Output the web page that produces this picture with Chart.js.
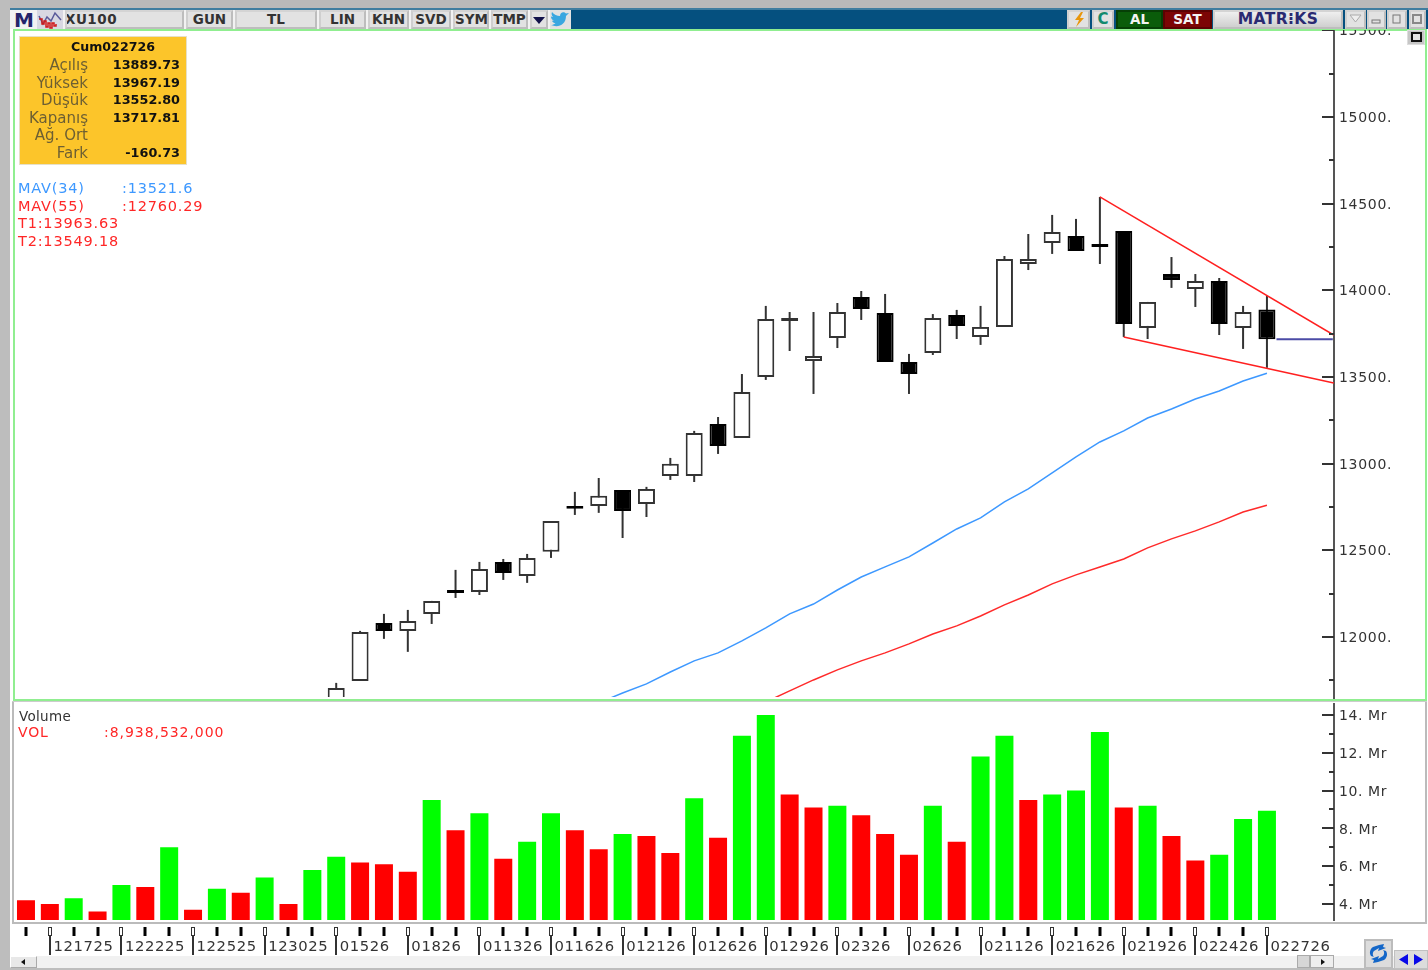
<!DOCTYPE html>
<html lang="tr"><head><meta charset="utf-8"><title>XU100</title>
<script src="https://cdn.jsdelivr.net/npm/chart.js@4"></script>
<style>
html,body{margin:0;padding:0;background:#fff;width:1428px;height:970px;overflow:hidden;font-family:"DejaVu Sans",sans-serif}
.a{position:absolute;box-sizing:border-box}
.btn{position:absolute;top:10px;height:19px;background:#e2e2e2;border:2px solid #bdbdbd;border-top-color:#d4d4d4;border-left-color:#cfcfcf;text-align:center;font:bold 13.5px/15px "DejaVu Sans",sans-serif;color:#333;box-sizing:border-box;white-space:nowrap;overflow:hidden}
.t{position:absolute;white-space:nowrap;line-height:18px}
.lab{color:#6d5f33;font-size:15px;text-align:right;width:80px;left:8px}
.val{color:#111;font:bold 12.8px/18px "DejaVu Sans",sans-serif;text-align:right;width:80px;left:100px}
.ind{font-size:14.5px;letter-spacing:.8px}
canvas{position:absolute;display:block}
</style></head><body>
<div class="a" style="left:0;top:0;width:1428px;height:8px;background:#b9b9b9"></div>
<div class="a" style="left:10px;top:8px;width:1418px;height:2px;background:#3f7d9f"></div>
<div class="a" style="left:0;top:0;width:10px;height:970px;background:#bdbdbd"></div>
<div class="a" style="left:571px;top:10px;width:857px;height:19px;background:#05507f"></div>
<div class="a" style="left:10px;top:10px;width:561px;height:19px;background:#f2f2f2"></div>
<div class="t" style="left:14px;top:10px;width:19px;text-align:center;font:bold 20px/20px 'DejaVu Sans';color:#24246b">M</div>
<div class="btn" style="left:37px;width:26px;background:#d8d8e2;border:none"><svg width="26" height="19"><path d="M2 6l4 8 4-7 4 4 4-8 6 7" fill="none" stroke="#5a5a9a" stroke-width="1.5"/><path d="M2 9h3v5h2v-3h2v6h2v-4h2v5h2v-5h2v3h2v-2" fill="none" stroke="#d01818" stroke-width="1.5"/></svg></div>
<div class="btn" style="left:65px;width:119px;text-align:left;letter-spacing:.5px;text-indent:-2px">XU100</div>
<div class="btn" style="left:186px;width:47px">GUN</div>
<div class="btn" style="left:235px;width:82px">TL</div>
<div class="btn" style="left:319px;width:47px">LIN</div>
<div class="btn" style="left:368px;width:41px">KHN</div>
<div class="btn" style="left:411px;width:40px">SVD</div>
<div class="btn" style="left:453px;width:36px">SYM</div>
<div class="btn" style="left:491px;width:37px">TMP</div>
<div class="btn" style="left:530px;width:18px"><svg width="14" height="15"><path d="M1 5h12l-6 7z" fill="#12124a"/></svg></div>
<div class="btn" style="left:550px;width:21px;border:none"><svg width="21" height="19"><path d="M1 15c7 3 15 0 15-9l3-3-3 .6c-2-2.600-6-1.600-6 2.400-3 0-6-1.500-8-4-1 2 0 4 1 5l-2-.5c0 2 1 3.500 3 4l-2 .2c.5 1.500 2 2.300 3.500 2.300-1.500 1.500-3 2-4.500 2z" fill="#3aa7e0"/></svg></div>

<div class="btn" style="left:1067px;width:23px"><svg width="18" height="15"><path d="M11 0L5 8h4l-3 7 8-9h-4l3-6z" fill="#e8960c"/></svg></div>
<div class="btn" style="left:1092px;width:22px;color:#128a6e;font:900 15px/15px 'DejaVu Sans'">C</div>
<div class="btn" style="left:1116px;width:47px;background:#0a5c0a;border-color:#063f06;color:#f4f4f4;">AL</div>
<div class="btn" style="left:1163px;width:49px;background:#7c0505;border-color:#5c0202;color:#f4f4f4;">SAT</div>
<div class="btn" style="left:1213px;width:130px;background:linear-gradient(#efefef,#cfcfcf);color:#2a2a72;font-size:15.5px;letter-spacing:.4px">MATR⁝KS</div>
<div class="btn" style="left:1345px;width:21px"><svg width="17" height="15"><path d="M3 3h11l-5.500 7z" fill="#eee" stroke="#aaa"/></svg></div>
<div class="btn" style="left:1367px;width:19px"><svg width="15" height="15"><rect x="3" y="8" width="8" height="3" fill="none" stroke="#777"/></svg></div>
<div class="btn" style="left:1387px;width:20px"><svg width="16" height="15"><rect x="4" y="3" width="7" height="8" fill="none" stroke="#777"/></svg></div>
<div class="btn" style="left:1409px;width:17px"><svg width="13" height="15"><rect x="2" y="3" width="8" height="8" fill="none" stroke="#888" stroke-width="2"/></svg></div>

<div class="a" style="left:13px;top:29px;width:1414px;height:2px;background:#90ee90"></div>
<div class="a" style="left:13px;top:29px;width:2px;height:672px;background:#90ee90"></div>
<div class="a" style="left:1425px;top:29px;width:2px;height:672px;background:#90ee90"></div>
<div class="a" style="left:13px;top:699px;width:1414px;height:2px;background:#90ee90"></div>
<div class="a" style="left:12px;top:701px;width:1415px;height:1px;background:#ccc"></div>
<div class="a" style="left:12px;top:702px;width:2px;height:222px;background:#bbb"></div>
<div class="a" style="left:1425px;top:702px;width:2px;height:222px;background:#bbb"></div>
<div class="a" style="left:12px;top:922px;width:1415px;height:2px;background:#bbb"></div>

<canvas id="priceCanvas" width="1410" height="669" style="left:15px;top:30px;width:1410px;height:669px"></canvas>
<canvas id="volumeCanvas" width="1410" height="253" style="left:15px;top:703px;width:1410px;height:253px"></canvas>

<div class="a" style="left:1407px;top:30px;width:18px;height:15px;background:#c6c6c6;border:1px solid #ddd"><div class="a" style="left:3px;top:1px;width:11px;height:10px;border:2px solid #111;background:#e6e6e6"></div></div>

<div class="a" style="left:19px;top:36px;width:168px;height:129px;background:#fcc52a;border:1px solid #e6e0c8"></div>
<div class="t" style="left:28px;top:38px;width:170px;text-align:center;font:bold 12.6px/18px 'DejaVu Sans';color:#111">Cum022726</div>
<div class="t lab" style="top:56px">Açılış</div><div class="t val" style="top:56px">13889.73</div>
<div class="t lab" style="top:73.500px">Yüksek</div><div class="t val" style="top:73.500px">13967.19</div>
<div class="t lab" style="top:91px">Düşük</div><div class="t val" style="top:91px">13552.80</div>
<div class="t lab" style="top:108.500px">Kapanış</div><div class="t val" style="top:108.500px">13717.81</div>
<div class="t lab" style="top:126px">Ağ. Ort</div>
<div class="t lab" style="top:143.500px">Fark</div><div class="t val" style="top:143.500px">-160.73</div>

<div class="t ind" style="left:18px;top:179px;color:#3d98ff">MAV(34)</div><div class="t ind" style="left:122px;top:179px;color:#3d98ff">:13521.6</div>
<div class="t ind" style="left:18px;top:196.500px;color:#ff2626">MAV(55)</div><div class="t ind" style="left:122px;top:196.500px;color:#ff2626">:12760.29</div>
<div class="t ind" style="left:18px;top:214px;color:#ff2626">T1:13963.63</div>
<div class="t ind" style="left:18px;top:231.500px;color:#ff2626">T2:13549.18</div>
<div class="t" style="left:19px;top:707px;font-size:13.500px;color:#333;letter-spacing:.3px">Volume</div>
<div class="t ind" style="left:18px;top:723px;color:#ff2626;font-size:14px">VOL</div><div class="t ind" style="left:104px;top:723px;color:#ff2626;font-size:14px;letter-spacing:.95px">:8,938,532,000</div>

<div class="a" style="left:10px;top:956px;width:1418px;height:12px;background:#f1f1f1"></div>
<div class="a" style="left:10px;top:968px;width:1418px;height:2px;background:#bdbdbd"></div>
<div class="a" style="left:10px;top:956px;width:27px;height:12px;background:#e8e8e8;border:1px solid #aaa;border-left-color:#fff;border-top-color:#fff"><svg width="25" height="10" style="display:block"><path d="M14 2v6l-4-3z" fill="#111"/></svg></div>
<div class="a" style="left:1297px;top:955px;width:13px;height:13px;background:#d6d6d6;border:1px solid #aaa"></div>
<div class="a" style="left:1310px;top:955px;width:24px;height:13px;background:#eee;border:1px solid #aaa"><svg width="22" height="11" style="display:block"><path d="M10 3v6l4-3z" fill="#111"/></svg></div>
<div class="a" style="left:1364px;top:939px;width:29px;height:30px;background:#dcdcdc;border:2px solid #bcbcbc"><svg width="25" height="26" style="display:block"><path d="M13 4l5-1-1 3 3 1-8 3 1-3-5 3c-2 2-1 5 0 6l-3-1c-2-3-1-7 2-9zM12 21l-5 1 1-3-3-1 8-3-1 3 5-3c2-2 1-5 0-6l3 1c2 3 1 7-2 9z" fill="#1467c8"/></svg></div>
<div class="a" style="left:1394px;top:950px;width:34px;height:19px;background:#dcdcdc;border:1px solid #c0c0c0"><svg width="32" height="17" style="display:block"><path d="M13 3v11l-9-5.500zM19 3v11l9-5.500z" fill="#0808e8"/></svg></div>

<script>
// Chart data
const firstCandle = 13;
const opens  = [11480,11746,12081,12035,12133,12271,12260,12433,12352,12491,12756,12756,12848,12767,12929,12929,13229,13148,13500,13823,13592,13725,13962,13869,13587,13639,13858,13731,13789,14152,14273,14314,14267,14342,13783,14094,14008,14054,13783,13889.73];
const highs  = [11735,12035,12133,12156,12208,12387,12433,12450,12479,12669,12837,12917,12848,12866,13033,13189,13269,13517,13910,13875,13875,13927,13996,13979,13633,13863,13887,13910,14198,14325,14435,14412,14539,14342,13933,14192,14094,14071,13910,13967.19];
const lows   = [11430,11746,11989,11914,12075,12225,12242,12329,12312,12456,12704,12716,12571,12692,12906,12894,13056,13148,13483,13650,13402,13667,13829,13587,13402,13627,13719,13685,13789,14117,14210,14227,14152,13731,13719,14014,13904,13742,13662,13552.80];
const closes = [11706,12029,12035,12092,12208,12254,12392,12369,12456,12669,12739,12814,12727,12854,13000,13177,13102,13414,13835,13840,13621,13875,13892,13587,13517,13840,13794,13789,14181,14181,14337,14227,14250,13806,13933,14060,14054,13806,13875,13717.81];

const mav34Start = 24;
const mav34 = [11619,11677,11729,11798,11862,11908,11977,12052,12133,12190,12271,12346,12404,12462,12542,12623,12687,12779,12854,12946,13039,13125,13189,13263,13315,13373,13419,13477,13521.6];
const mav55Start = 31;
const mav55 = [11625,11689,11752,11810,11862,11908,11960,12017,12064,12121,12185,12242,12306,12358,12404,12450,12514,12566,12612,12664,12721,12760.29];

const trendUpperX = [45,54.8];
const trendUpperY = [14539,13742];
const trendLowerX = [46,54.8];
const trendLowerY = [13731,13465];
const lastCloseX = [52.4,54.76];
const lastCloseY = [13717.81,13717.81];

const volumes = [4.2,4.0,4.3,3.6,5.0,4.9,7.0,3.7,4.8,4.6,5.4,4.0,5.8,6.5,6.2,6.1,5.7,9.5,7.9,8.8,6.4,7.3,8.8,7.9,6.9,7.7,7.6,6.7,9.6,7.5,12.9,14.0,9.8,9.1,9.2,8.7,7.7,6.6,9.2,7.3,11.8,12.9,9.5,9.8,10.0,13.1,9.1,9.2,7.6,6.3,6.6,8.5,8.94];
const volumeSides = "rrgrgrgrgrgrggrrrgrgrggrrgrrgrggrrgrrrgrggrgggrgrrggg".split("");

const dateTickIndex = [1,4,7,10,13,16,19,22,25,28,31,34,37,40,43,46,49,52];
const dateLabels = ["121725","122225","122525","123025","01526","01826","011326","011626","012126","012626","012926","02326","02626","021126","021626","021926","022426","022726"];
const priceTicks = [12000,12500,13000,13500,14000,14500,15000,15500];
const priceMinorTicks = [11750,12250,12750,13250,13750,14250,14750,15250];
const volumeTicks = [4,6,8,10,12,14];
const volumeMinorTicks = [5,7,9,11,13];

const xMin = -0.46, xMax = 54.81;
const wideW = 1410;
const paneClip = {left:0,top:0,right:0,bottom:-2};

function fixWidth(scale){scale.width=wideW-1319;scale.paddingTop=0;scale.paddingBottom=0;}
function axisMarks(id,majors,minors){
  return {id,afterDraw(chart){
    const c=chart.ctx,s=chart.scales.y,r=chart.chartArea.right;
    c.save();c.strokeStyle='#333';c.lineWidth=2;c.beginPath();
    majors.forEach(v=>{const y=Math.round(s.getPixelForValue(v));c.moveTo(r-12,y);c.lineTo(r,y);});
    minors.forEach(v=>{const y=Math.round(s.getPixelForValue(v));c.moveTo(r-5,y);c.lineTo(r,y);});
    c.stroke();c.restore();
  }};
}
const spacing = px=>({id:'sp'+px,beforeDraw(chart){chart.ctx.letterSpacing=px;}});

const candleX = opens.map((_,i)=>i+firstCandle);
const series=(x,y)=>y.map((v,i)=>({x:x[i],y:v}));
const line=(data,color,w)=>({type:'line',data,borderColor:color,borderWidth:w,pointRadius:0,tension:0,order:0,clip:paneClip});

new Chart(document.getElementById('priceCanvas'),{
  data:{datasets:[
    line(mav34.map((v,i)=>({x:i+mav34Start,y:v})),'#3d98ff',1.5),
    line(mav55.map((v,i)=>({x:i+mav55Start,y:v})),'#ff2a2a',1.5),
    line(series(trendUpperX,trendUpperY),'#ff2020',1.5),
    line(series(trendLowerX,trendLowerY),'#ff2020',1.5),
    line(series(lastCloseX,lastCloseY),'#4b4ba6',2),
    {type:'bar',order:1,grouped:false,barThickness:17,borderSkipped:false,inflateAmount:0,clip:paneClip,
     data:candleX.map((x,i)=>({x,y:[opens[i],closes[i]]})),
     backgroundColor:opens.map((o,i)=>closes[i]>o?'#ffffff':'#000000'),
     borderColor:opens.map((o,i)=>closes[i]>o?'#333333':'#000000'),borderWidth:2},
    {type:'bar',order:2,grouped:false,barThickness:2,inflateAmount:0,clip:paneClip,
     data:candleX.map((x,i)=>({x,y:[lows[i],highs[i]]})),backgroundColor:'#333333'}
  ]},
  options:{responsive:false,animation:false,devicePixelRatio:1,layout:{padding:0},
    plugins:{legend:{display:false},tooltip:{enabled:false}},
    scales:{
      x:{type:'linear',display:false,min:xMin,max:xMax,offset:false,grid:{display:false}},
      y:{type:'linear',position:'right',min:11642,max:15502,afterFit:fixWidth,
         afterBuildTicks(s){s.ticks=priceTicks.map(value=>({value}));},
         grid:{display:false,drawTicks:false},border:{display:true,color:'#555',width:2},
         ticks:{padding:5,color:'#333',font:{family:'"DejaVu Sans"',size:14,lineHeight:'2.5px'},autoSkip:false,callback:v=>['',v+'.']}}
    }},
  plugins:[spacing('0.7px'),axisMarks('pm',priceTicks,priceMinorTicks)]
});

const sideColor={r:'#ff0000',g:'#00ff00'};
const xMarks={id:'xMarks',afterDraw(chart){
  const c=chart.ctx,s=chart.scales.x,top=224,mid=233,bot=252;
  c.save();
  volumes.forEach((_,i)=>{
    const x=Math.round(s.getPixelForValue(i));
    if(dateTickIndex.includes(i)){
      c.strokeStyle='#333';c.lineWidth=1;c.strokeRect(x-1.5,top+.5,3,mid-top-1);
      c.fillStyle='#333';c.fillRect(x-1,mid,2,bot-mid);
    }else{c.fillStyle='#000';c.fillRect(x-1.5,top,3,mid-top);}
  });
  c.restore();
}};
new Chart(document.getElementById('volumeCanvas'),{
  data:{datasets:[{type:'bar',grouped:false,barThickness:18,inflateAmount:0,
    data:volumes.map((v,i)=>({x:i,y:v})),
    backgroundColor:volumeSides.map(k=>sideColor[k])}]},
  options:{responsive:false,animation:false,devicePixelRatio:1,layout:{padding:0},
    plugins:{legend:{display:false},tooltip:{enabled:false}},
    scales:{
      x:{type:'linear',position:'bottom',min:xMin,max:xMax,offset:false,
         afterBuildTicks(s){s.ticks=dateTickIndex.map(value=>({value}));},
         afterFit(s){s.height=36;s.paddingLeft=0;s.paddingRight=0;},
         grid:{display:false,drawTicks:false},border:{display:false},
         ticks:{align:'start',padding:18,color:'#333',maxRotation:0,autoSkip:false,
                font:{family:'"DejaVu Sans"',size:14.8},
                callback:(v,i)=>'\u2009'+dateLabels[i]}},
      y:{type:'linear',position:'right',min:3.153,max:14.635,afterFit:fixWidth,
         afterBuildTicks(s){s.ticks=volumeTicks.map(value=>({value}));},
         grid:{display:false,drawTicks:false},border:{display:true,color:'#555',width:2},
         ticks:{padding:5,color:'#333',font:{family:'"DejaVu Sans"',size:14,lineHeight:'3px'},autoSkip:false,callback:v=>['',v+'. Mr']}}
    }},
  plugins:[spacing('0.6px'),axisMarks('vm',volumeTicks,volumeMinorTicks),xMarks]
});
</script>
</body></html>
